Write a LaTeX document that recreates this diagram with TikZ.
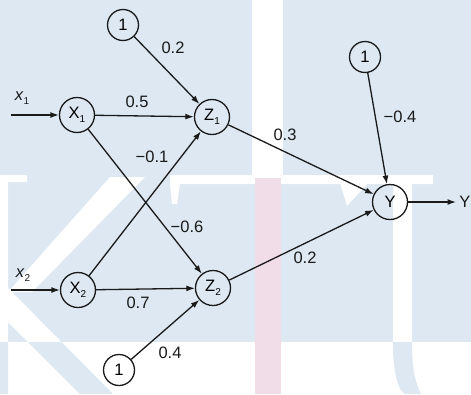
\documentclass[tikz,border=0pt]{standalone}
\usepackage{fontspec}
\setmainfont{Liberation Sans}
\usetikzlibrary{arrows.meta,positioning,calc}
\definecolor{wmblue}{HTML}{DDE8F2}
\definecolor{wmpink}{HTML}{F1DDE7}
\definecolor{ink}{HTML}{1A1A1A}
\newcommand{\sub}[1]{\raisebox{-0.5ex}{\fontsize{10}{10}\selectfont #1}}
\newcommand{\letterpath}{(0,176) rectangle (8,394) (0,175) rectangle (27,182)
  (110,177) -- (145,177) -- (32,292) -- (8,292) -- cycle
  (8,288) -- (113,394) -- (80,394) -- (8,322) -- cycle
  (393,183) -- (393,350) .. controls (394,375) and (398,390) .. (405,394)
  -- (421,394) .. controls (414,380) and (412,365) .. (412,340) -- (412,183) -- cycle}

\begin{document}
\begin{tikzpicture}[x=1pt, y=-1pt, font=\fontsize{16.5}{19}\selectfont]
  \tikzset{neuron/.style={circle, draw=ink, line width=1.3pt, minimum size=35pt, inner sep=0pt},
    bias/.style={neuron, minimum size=31pt},
    wire/.style={draw=ink, line width=1.3pt, -{Latex[length=8.5pt,width=6pt]}},
    weight/.style={text=ink, inner sep=0pt}}
  \useasboundingbox (0,0) rectangle (471,394);

  % watermark behind the net
  \fill[wmblue] (0,0) rectangle (471,342);
  \begin{scope}
    \clip (0,0) rectangle (471,342);
    \fill[white] \letterpath;
  \end{scope}
  \begin{scope}
    \clip (0,342) rectangle (471,394);
    \fill[wmblue] \letterpath;
  \end{scope}
  \fill[white] (170,175) rectangle (433,184) (170,184) -- (180,184) -- (177,204) -- (172,204) -- cycle;
  \fill[white] (340,175) rectangle (430,183) (340,183) -- (368,183) -- (347,206) -- cycle;
  \fill[white] (252,0) rectangle (283,178);
  \fill[wmpink] (255,178) rectangle (281,394);

  % units
  \node[neuron] (X1) at (77,115) {X\sub{1}};
  \node[neuron] (X2) at (78,290) {X\sub{2}};
  \node[neuron] (Z1) at (212,117) {Z\sub{1}};
  \node[neuron] (Z2) at (213,288) {Z\sub{2}};
  \node[neuron] (Y) at (390,202) {Y};
  \node[bias] (B1) at (123,25) {1};
  \node[bias] (B2) at (119,370) {1};
  \node[bias] (B3) at (365,57) {1};

  \coordinate (in1) at (11,115);
  \coordinate (in2) at (11,290);
  \coordinate (out) at (456,202);
  \node[weight] (x1) at (22,98) {\textit{x}\sub{1}};
  \node[weight] (x2) at (23,275) {\textit{x}\sub{2}};
  \node[weight, anchor=east] (y) at (470.5,202) {Y};

  \draw[wire] (in1) -- (X1);
  \draw[wire] (in2) -- (X2);
  \draw[wire] (X1) -- (Z1);
  \draw[wire] (X1) -- (Z2);
  \draw[wire] (X2) -- (Z1);
  \draw[wire] (X2) -- (Z2);
  \draw[wire] (B1) -- (Z1);
  \draw[wire] (B2) -- (Z2);
  \draw[wire] (Z1) -- (Y);
  \draw[wire] (Z2) -- (Y);
  \draw[wire] (B3) -- (Y);
  \draw[wire] (Y) -- (out);

  % weights
  \node[weight] (wBZ1) at (173,48) {0.2};
  \node[weight] (wX1Z1) at (137,102) {0.5};
  \node[weight] (wX2Z1) at (152,157) {−0.1};
  \node[weight] (wX1Z2) at (187,227) {−0.6};
  \node[weight] (wX2Z2) at (138,303) {0.7};
  \node[weight] (wBZ2) at (170,353) {0.4};
  \node[weight] (wZ1Y) at (285,135) {0.3};
  \node[weight] (wZ2Y) at (305,258) {0.2};
  \node[weight] (wBY) at (400,117) {−0.4};
\end{tikzpicture}
\end{document}
